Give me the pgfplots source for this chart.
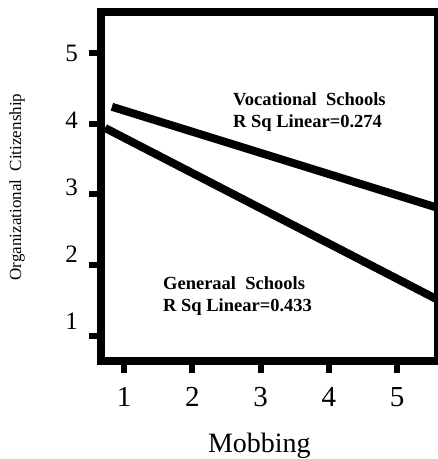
\documentclass[border=0pt]{standalone}
\usepackage{pgfplots}
\pgfplotsset{compat=1.18}
\usepackage{fontspec}
\setmainfont{Liberation Serif}
\begin{document}
\begin{tikzpicture}
\begin{axis}[
  at={(0pt,0pt)}, anchor=south west,
  scale only axis, width=337pt, height=349pt,
  xmin=0.66, xmax=5.598, ymin=0.646, ymax=5.58,
  xtick={1,2,3,4,5}, ytick={1,2,3,4,5},
  xticklabels={1,2,3,4,5}, yticklabels={1,2,3,4,5},
  xtick pos=bottom, ytick pos=left,
  tick align=outside,
  major tick length=12pt,
  major tick style={line width=6pt, black},
  axis line style={line width=8pt, black, line join=miter},
  /pgf/number format/assume math mode=true,
  yticklabel style={font=\fontsize{25}{27}\selectfont, anchor=east, inner sep=0pt, xshift=-11pt, yshift={(15-3.8*\ticknum)*1pt}},
  xticklabel style={font=\fontsize{29}{31}\selectfont, anchor=north, inner sep=0pt, yshift=-14pt},
  xlabel={Mobbing},
  xlabel style={font=\fontsize{28}{30}\selectfont, at={(axis description cs:0.47,0)}, anchor=base, yshift=-91pt},
  ylabel={Organizational\ \ Citizenship},
  ylabel style={font=\fontsize{17}{19}\selectfont, at={(axis description cs:-0.2493,0.4986)}, anchor=center, inner sep=0pt},
  clip=true,
]
\addplot[black, line width=8pt] coordinates {(0.82,4.24) (5.598,2.81)};
\addplot[black, line width=8pt] coordinates {(0.72,3.94) (5.598,1.51)};
\node[anchor=base west, inner sep=0pt, font=\bfseries\fontsize{18.5}{20}\selectfont] at (axis cs:2.594,4.253) {Vocational\ \ Schools};
\node[anchor=base west, inner sep=0pt, font=\bfseries\fontsize{18.5}{20}\selectfont] at (axis cs:2.594,3.942) {R Sq Linear=0.274};
\node[anchor=base west, inner sep=0pt, font=\bfseries\fontsize{18.5}{20}\selectfont] at (axis cs:1.568,1.650) {Generaal\ \ Schools};
\node[anchor=base west, inner sep=0pt, font=\bfseries\fontsize{18.5}{20}\selectfont] at (axis cs:1.568,1.339) {R Sq Linear=0.433};
\end{axis}
\pgfresetboundingbox
\useasboundingbox (-101pt,-98pt) rectangle (337pt,361pt);
\end{tikzpicture}
\end{document}
